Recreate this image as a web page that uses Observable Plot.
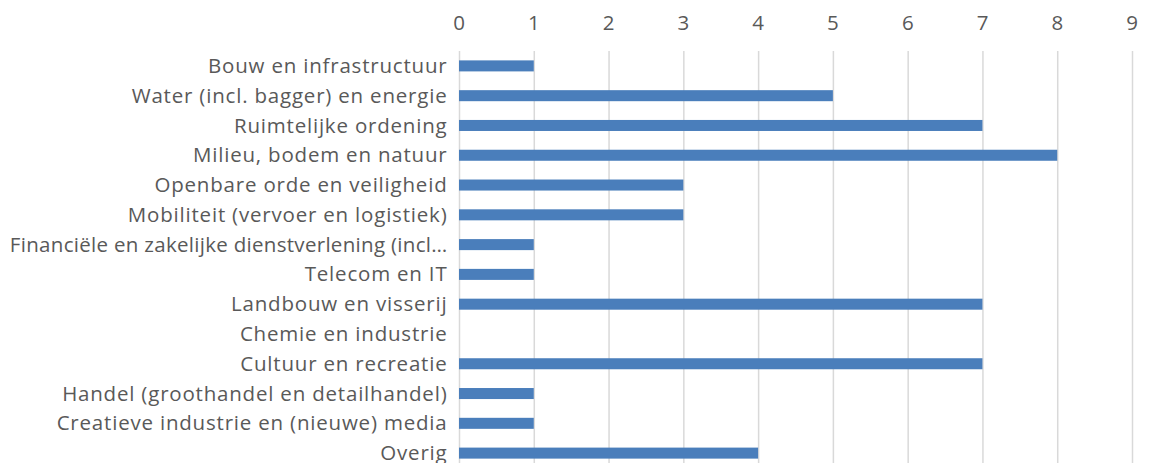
<!DOCTYPE html>
<html>
<head>
<meta charset="utf-8">
<script src="https://cdn.jsdelivr.net/npm/d3@7"></script>
<script src="https://cdn.jsdelivr.net/npm/@observablehq/plot@0.6"></script>
<style>
  html, body { margin: 0; padding: 0; background: #fff; }
  #chart svg { display: block; }
</style>
</head>
<body>
<div id="chart"></div>
<script>
// Sectors, top to bottom, with the count per sector
const sectors = [
  "Bouw en infrastructuur",
  "Water (incl. bagger) en energie",
  "Ruimtelijke ordening",
  "Milieu, bodem en natuur",
  "Openbare orde en veiligheid",
  "Mobiliteit (vervoer en logistiek)",
  "Financiële en zakelijke dienstverlening (incl…",
  "Telecom en IT",
  "Landbouw en visserij",
  "Chemie en industrie",
  "Cultuur en recreatie",
  "Handel (groothandel en detailhandel)",
  "Creatieve industrie en (nieuwe) media",
  "Overig"
];
const counts = [1, 5, 7, 8, 3, 3, 1, 1, 7, 0, 7, 1, 1, 4];
const xTicks = [0, 1, 2, 3, 4, 5, 6, 7, 8, 9];

const rows = sectors.map((s, i) => ({sector: s, count: counts[i]}));

// the truncated label is the longest one; set it a little tighter
const longLabel = sectors[6];

const chart = Plot.plot({
  width: 1151,
  height: 463,
  marginLeft: 459,
  marginRight: 19,
  marginTop: 51,
  marginBottom: 0,
  style: {fontFamily: "'Open Sans', Lato, sans-serif", fontSize: "20.5px", letterSpacing: "0.8px", color: "#595959", background: "#fff"},
  x: {domain: [0, 9], ticks: xTicks, axis: "top", tickSize: 0, tickPadding: 22, label: null, tickFormat: d => String(d)},
  // the last row runs a little past the bottom edge
  y: {domain: sectors, range: [51, 468], round: false, paddingInner: 0.63, paddingOuter: 0.315, label: null, tickSize: 0, tickPadding: 12},
  marks: [
    Plot.ruleX(xTicks, {stroke: "#d9d9d9", strokeWidth: 1.5}),
    Plot.barX(rows, {x: "count", y: "sector", fill: "#4a7ebb"})
  ]
});

d3.select(chart).selectAll("text")
  .filter(function () { return this.textContent === longLabel; })
  .style("letter-spacing", "0.3px");

document.getElementById("chart").append(chart);
</script>
</body>
</html>
